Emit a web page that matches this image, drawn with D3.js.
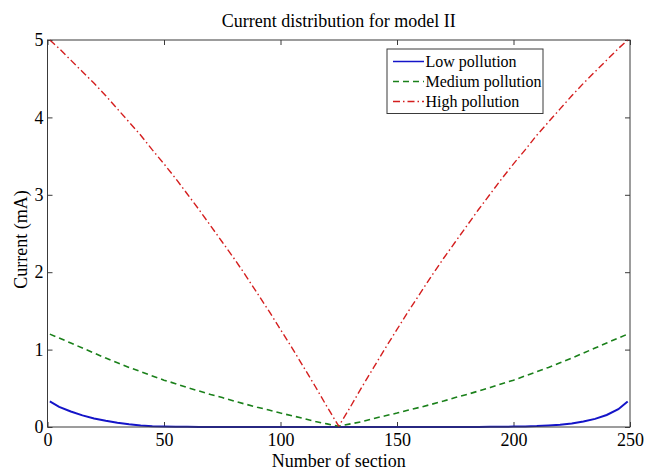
<!DOCTYPE html>
<html lang="en">
<head>
	<meta charset="UTF-8">
	<style>
	body {
		margin: 0;
		background: white;
	}
	svg text {
		font-family: "Times New Roman", "Liberation Serif", serif;
		fill: black;
	}
	</style>
	<script src="https://d3js.org/d3.v7.min.js"></script>
	<title>Current distribution for model II</title>
</head>
<body>
	<div id="chart">
		<script>
			// section numbers along the string
			const sections = [1, 5, 10, 15, 20, 25, 30, 35, 40, 45, 50, 55, 60, 65, 70, 75, 80, 85, 90, 95, 100, 105, 110, 115, 120, 125,
				130, 135, 140, 145, 150, 155, 160, 165, 170, 175, 180, 185, 190, 195, 200, 205, 210, 215, 220, 225, 230, 235, 240, 245, 249];

			// current (mA)
			const lowPollution = [0.33, 0.26, 0.20, 0.15, 0.11, 0.08, 0.055, 0.035, 0.02, 0.01, 0.005, 0.003, 0.002, 0.001, 0, 0, 0, 0, 0, 0, 0, 0, 0, 0, 0, 0,
				0, 0, 0, 0, 0, 0, 0, 0, 0, 0, 0, 0, 0.002, 0.003, 0.005, 0.008, 0.012, 0.02, 0.03, 0.045, 0.07, 0.105, 0.155, 0.23, 0.33];
			const mediumPollution = [1.20, 1.15, 1.085, 1.02, 0.955, 0.89, 0.83, 0.77, 0.715, 0.66, 0.605, 0.56, 0.51, 0.465, 0.42, 0.38, 0.335, 0.295, 0.255, 0.22, 0.18, 0.145, 0.11, 0.07, 0.04, 0.01,
				0.04, 0.07, 0.11, 0.145, 0.18, 0.22, 0.255, 0.295, 0.335, 0.38, 0.42, 0.465, 0.51, 0.56, 0.605, 0.66, 0.715, 0.77, 0.83, 0.89, 0.955, 1.02, 1.085, 1.15, 1.20];
			const highPollution = [5.00, 4.89, 4.74, 4.59, 4.44, 4.28, 4.11, 3.94, 3.77, 3.58, 3.40, 3.21, 3.01, 2.81, 2.60, 2.39, 2.18, 1.96, 1.73, 1.50, 1.26, 1.02, 0.77, 0.52, 0.26, 0.01,
				0.26, 0.52, 0.77, 1.02, 1.26, 1.50, 1.73, 1.96, 2.18, 2.39, 2.60, 2.81, 3.01, 3.21, 3.40, 3.58, 3.77, 3.94, 4.11, 4.28, 4.44, 4.59, 4.74, 4.89, 5.00];

			const seriesNames = ["Low pollution", "Medium pollution", "High pollution"];
			const xTicks = [0, 50, 100, 150, 200, 250];
			const yTicks = [0, 1, 2, 3, 4, 5];

			const styles = [
				{ color: "#1414c8", width: 2, dash: null },
				{ color: "#1a801a", width: 1.6, dash: "6,4" },
				{ color: "#d41e1e", width: 1.4, dash: "7,3,1.5,3" }
			];

			const width = 647, height = 472;
			const margin = { top: 40, right: 17, bottom: 45, left: 47.5 };
			const fontFamily = "'Times New Roman', 'Liberation Serif', serif";

			const svg = d3.select("#chart")
				.append("svg")
				.attr("width", width)
				.attr("height", height);

			const x = d3.scaleLinear()
				.domain([0, 250])
				.range([margin.left, width - margin.right]);
			const y = d3.scaleLinear()
				.domain([0, 5])
				.range([height - margin.bottom, margin.top]);

			// axes with inward ticks, MATLAB style
			const axisColor = "#3a3a3a";
			function styleAxis(g) {
				g.attr("font-family", fontFamily).attr("font-size", 18);
				g.select(".domain").remove();
				g.selectAll(".tick line").attr("stroke", axisColor);
				g.selectAll(".tick text").attr("fill", "black");
			}

			svg.append("g")
				.attr("transform", "translate(0," + y(0) + ")")
				.call(d3.axisBottom(x).tickValues(xTicks).tickFormat(d3.format("d")).tickSize(-5).tickPadding(6))
				.call(styleAxis);
			svg.append("g")
				.attr("transform", "translate(0," + y(5) + ")")
				.call(d3.axisTop(x).tickValues(xTicks).tickSize(-5).tickFormat(""))
				.call(styleAxis);
			svg.append("g")
				.attr("transform", "translate(" + x(0) + ",0)")
				.call(d3.axisLeft(y).tickValues(yTicks).tickFormat(d3.format("d")).tickSize(-5).tickPadding(4))
				.call(styleAxis);
			svg.append("g")
				.attr("transform", "translate(" + x(250) + ",0)")
				.call(d3.axisRight(y).tickValues(yTicks).tickSize(-5).tickFormat(""))
				.call(styleAxis);

			// the series
			const allSeries = [lowPollution, mediumPollution, highPollution];
			const line = d3.line()
				.x(function(d, i) { return x(sections[i]); })
				.y(function(d) { return y(d); });

			svg.append("g")
				.selectAll("path")
				.data(allSeries)
				.join("path")
				.attr("d", line)
				.attr("fill", "none")
				.attr("stroke", function(d, i) { return styles[i].color; })
				.attr("stroke-width", function(d, i) { return styles[i].width; })
				.attr("stroke-dasharray", function(d, i) { return styles[i].dash; });

			// frame
			svg.append("rect")
				.attr("x", x(0))
				.attr("y", y(5))
				.attr("width", x(250) - x(0))
				.attr("height", y(0) - y(5))
				.attr("fill", "none")
				.attr("stroke", axisColor)
				.attr("stroke-width", 1);

			// title and labels
			svg.append("text")
				.attr("x", (x(0) + x(250)) / 2)
				.attr("y", 27)
				.attr("text-anchor", "middle")
				.style("font-size", "18px")
				.text("Current distribution for model II");
			svg.append("text")
				.attr("x", (x(0) + x(250)) / 2)
				.attr("y", 467)
				.attr("text-anchor", "middle")
				.style("font-size", "18px")
				.text("Number of section");
			svg.append("text")
				.attr("transform", "translate(27," + ((y(0) + y(5)) / 2 + 6) + ") rotate(-90)")
				.attr("text-anchor", "middle")
				.style("font-size", "18px")
				.text("Current (mA)");

			// legend
			const legend = svg.append("g").attr("transform", "translate(387,49)");
			legend.append("rect")
				.attr("width", 156)
				.attr("height", 64.5)
				.attr("fill", "white")
				.attr("stroke", axisColor)
				.attr("stroke-width", 1);
			const items = legend.selectAll("g.item")
				.data(seriesNames)
				.join("g")
				.attr("class", "item")
				.attr("transform", function(d, i) { return "translate(0," + (12.5 + i * 20) + ")"; });
			items.append("line")
				.attr("x1", 6)
				.attr("x2", 37)
				.attr("stroke", function(d, i) { return styles[i].color; })
				.attr("stroke-width", function(d, i) { return Math.min(styles[i].width, 1.5); })
				.attr("stroke-dasharray", function(d, i) { return styles[i].dash; });
			items.append("text")
				.attr("x", 38.5)
				.attr("dy", "0.33em")
				.style("font-size", "16px")
				.text(function(d) { return d; });
		</script>
	</div>
</body>
</html>
